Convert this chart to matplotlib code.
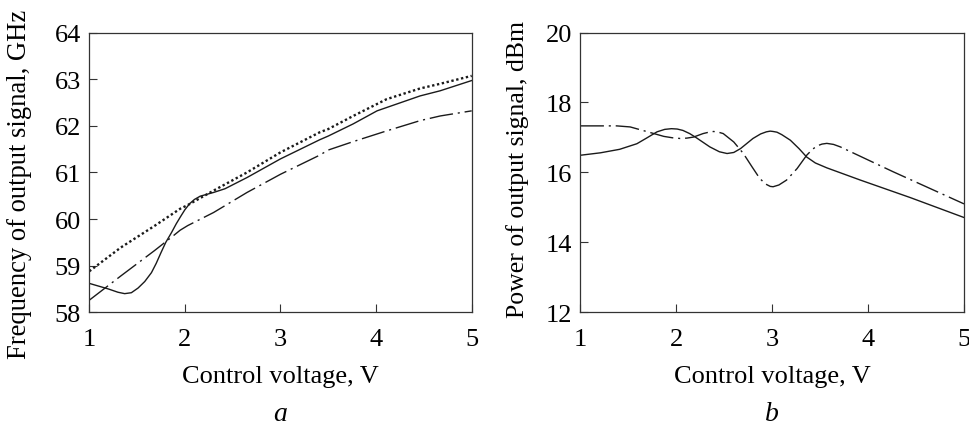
import matplotlib
matplotlib.use("Agg")
import matplotlib.pyplot as plt

# ---- Panel a: frequency vs control voltage ----
fa_dot_x = [1.0, 1.33, 1.68, 1.95, 2.03, 2.30, 2.65, 3.0, 3.41, 3.50, 3.76, 4.11, 4.46, 4.67, 5.0]
fa_dot_y = [58.88, 59.39, 59.85, 60.22, 60.30, 60.61, 61.0, 61.43, 61.86, 61.93, 62.21, 62.57, 62.80, 62.90, 63.07]

fa_sol_x = [1.0, 1.20, 1.30, 1.37, 1.44, 1.51, 1.58, 1.65, 1.70, 1.75, 1.80, 1.86, 1.91, 1.96, 2.00, 2.05, 2.10, 2.16, 2.30, 2.42, 2.65, 3.0, 3.41, 3.50, 3.76, 4.01, 4.46, 4.67, 5.0]
fa_sol_y = [58.62, 58.50, 58.43, 58.40, 58.42, 58.52, 58.66, 58.85, 59.05, 59.28, 59.50, 59.71, 59.90, 60.07, 60.20, 60.33, 60.42, 60.49, 60.57, 60.65, 60.89, 61.29, 61.70, 61.78, 62.04, 62.32, 62.64, 62.75, 62.97]

fa_dd_x = [1.0, 1.33, 1.68, 1.86, 1.95, 2.03, 2.30, 2.65, 3.0, 3.41, 3.50, 3.76, 4.11, 4.46, 4.67, 5.0]
fa_dd_y = [58.26, 58.78, 59.32, 59.61, 59.76, 59.86, 60.14, 60.57, 60.96, 61.37, 61.48, 61.66, 61.89, 62.11, 62.21, 62.32]

# ---- Panel b: power vs control voltage ----
pb_sol_x = [1.0, 1.21, 1.41, 1.59, 1.69, 1.80, 1.88, 1.95, 2.01, 2.07, 2.14, 2.21, 2.35, 2.45, 2.53, 2.60, 2.67, 2.80, 2.88, 2.94, 2.98, 3.01, 3.05, 3.10, 3.19, 3.28, 3.36, 3.45, 3.57, 3.70, 3.92, 4.44, 5.0]
pb_sol_y = [16.49, 16.56, 16.66, 16.82, 16.98, 17.16, 17.23, 17.25, 17.24, 17.20, 17.11, 16.99, 16.73, 16.59, 16.54, 16.57, 16.68, 16.97, 17.10, 17.16, 17.18, 17.17, 17.15, 17.08, 16.92, 16.68, 16.44, 16.27, 16.13, 16.00, 15.78, 15.28, 14.71]

pb_dd_x = [1.0, 1.38, 1.52, 1.69, 1.87, 1.96, 2.04, 2.11, 2.18, 2.28, 2.34, 2.39, 2.44, 2.49, 2.60, 2.70, 2.79, 2.87, 2.93, 2.98, 3.01, 3.07, 3.15, 3.26, 3.36, 3.42, 3.47, 3.52, 3.57, 3.64, 3.71, 4.26, 5.0]
pb_dd_y = [17.33, 17.33, 17.30, 17.17, 17.03, 16.99, 16.97, 16.98, 17.01, 17.11, 17.15, 17.17, 17.15, 17.11, 16.87, 16.54, 16.16, 15.83, 15.67, 15.60, 15.59, 15.64, 15.78, 16.11, 16.49, 16.66, 16.76, 16.81, 16.83, 16.80, 16.73, 16.02, 15.10]

x_ticks = [1, 2, 3, 4, 5]
fa_yticks = [58, 59, 60, 61, 62, 63, 64]
pb_yticks = [12, 14, 16, 18, 20]

plt.rcParams['font.family'] = ['Liberation Serif', 'DejaVu Serif']

W, H = 969, 427
fig = plt.figure(figsize=(W / 100, H / 100), dpi=100)

line_c = '#1a1a1a'
spine_c = '#333333'
fs = 19

AX_L, AX_R = 89.3, 471.7
BX_L, BX_R = 580.3, 964.0
Y_T, Y_B = 33.5, 313.3

axa = fig.add_axes([AX_L / W, 1 - Y_B / H, (AX_R - AX_L) / W, (Y_B - Y_T) / H])
axb = fig.add_axes([BX_L / W, 1 - Y_B / H, (BX_R - BX_L) / W, (Y_B - Y_T) / H])

dd_style = (0, (17, 3.5, 1.5, 3.5))

axa.plot(fa_dot_x, fa_dot_y, color=line_c, lw=1.7, linestyle=(0, (1, 1.1)))
axa.plot(fa_sol_x, fa_sol_y, color=line_c, lw=1.0)
axa.plot(fa_dd_x, fa_dd_y, color=line_c, lw=1.0, linestyle=dd_style)

axb.plot(pb_sol_x, pb_sol_y, color=line_c, lw=1.0)
axb.plot(pb_dd_x, pb_dd_y, color=line_c, lw=1.0, linestyle=dd_style)

for ax, yt, ylab, yfs in [(axa, fa_yticks, 'Frequency of output signal, GHz', 19.2),
                          (axb, pb_yticks, 'Power of output signal, dBm', 18.5)]:
    ax.set_xlim(1, 5)
    ax.set_ylim(yt[0], yt[-1])
    ax.set_xticks(x_ticks)
    ax.set_yticks(yt)
    ax.tick_params(direction='in', length=6, width=0.8, color=spine_c,
                   labelsize=fs, top=False, right=False)
    ax.tick_params(axis='x', pad=11)
    ax.tick_params(axis='y', pad=6)
    for s in ax.spines.values():
        s.set_color(spine_c)
        s.set_linewidth(0.9)
    ax.set_xlabel('Control voltage, V', fontsize=fs, labelpad=11)
    ax.set_ylabel(ylab, fontsize=yfs)

# y-label anchor is the right edge (text bottom) of the rotated label
axa.yaxis.set_label_coords(-(AX_L - 32) / (AX_R - AX_L), (Y_B - 184) / (Y_B - Y_T))
axb.yaxis.set_label_coords(-(BX_L - 529) / (BX_R - BX_L), (Y_B - 170) / (Y_B - Y_T))

fig.text((AX_L + AX_R) / 2 / W, 1 - 421 / H, 'a', fontsize=fs + 1, style='italic',
         ha='center', va='baseline')
fig.text((BX_L + BX_R) / 2 / W, 1 - 421 / H, 'b', fontsize=fs + 1, style='italic',
         ha='center', va='baseline')

fig.savefig('out.png', dpi=100)
